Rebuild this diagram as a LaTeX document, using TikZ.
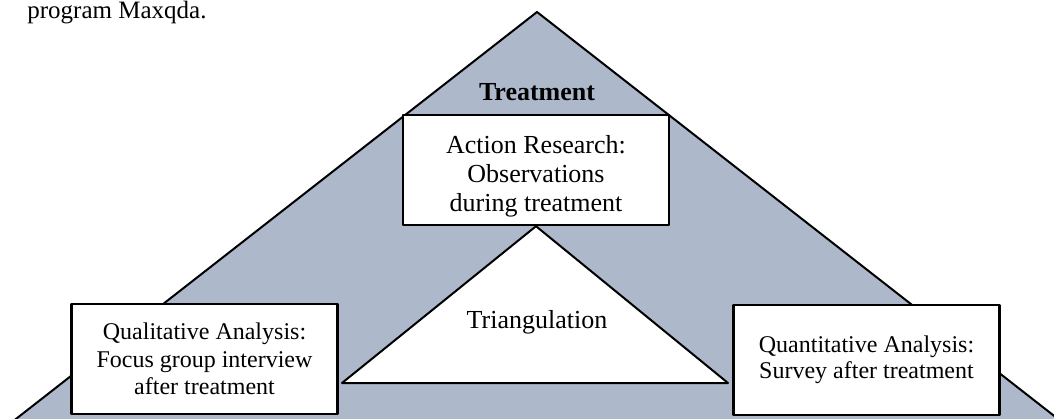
\documentclass[tikz,border=0pt]{standalone}
\usepackage{fontspec}
\setmainfont{Liberation Serif}
\usetikzlibrary{positioning}
\definecolor{ink}{HTML}{000000}
\definecolor{slate}{HTML}{ADB9CA}
\tikzset{el/.style={line cap=round, line join=round}}
\tikzset{stagebox/.style={draw=ink, line width=1.2pt, fill=white, align=center,
  minimum width=133pt, minimum height=55pt, inner sep=0pt,
  font=\fontsize{12}{13.75}\selectfont}}

\begin{document}
\begin{tikzpicture}[el, x=0.5pt, y=-0.5pt]
  \useasboundingbox (0,0) rectangle (1054,418);
  \begin{scope}
    \clip (0,0) rectangle (1054,418);
    \coordinate (apex) at (537,12);
    \fill[slate, draw=ink, line width=1pt] (apex) -- (1085,440) -- (-11,440) -- cycle;
  \end{scope}
  \node[anchor=base west, inner sep=0pt, font=\fontsize{12.5}{15}\selectfont] (note) at (27,18) {program Maxqda.};
  \node[font=\fontsize{13}{15}\selectfont\bfseries] (treat) at (537,92) {Treatment};
  \node[stagebox, font=\fontsize{13}{14.5}\selectfont] (act) at (536,170) {\rule{0pt}{15pt}Action Research:\\Observations\\during treatment};
  \node[stagebox] (qual) at (204.5,359) {Qualitative Analysis:\\Focus group interview\\after treatment};
  \node[stagebox, font=\fontsize{12}{13}\selectfont] (quant) at (866.5,360) {Quantitative Analysis:\\Survey after treatment};
  \coordinate (tri-l) at (342,383);
  \coordinate (tri-r) at (728,383);
  \draw[ink, line width=1pt, fill=white] (act.south) -- (tri-r) -- (tri-l) -- cycle;
  \node[font=\fontsize{13}{15}\selectfont] (tri) at (537,322) {Triangulation};
\end{tikzpicture}
\end{document}
